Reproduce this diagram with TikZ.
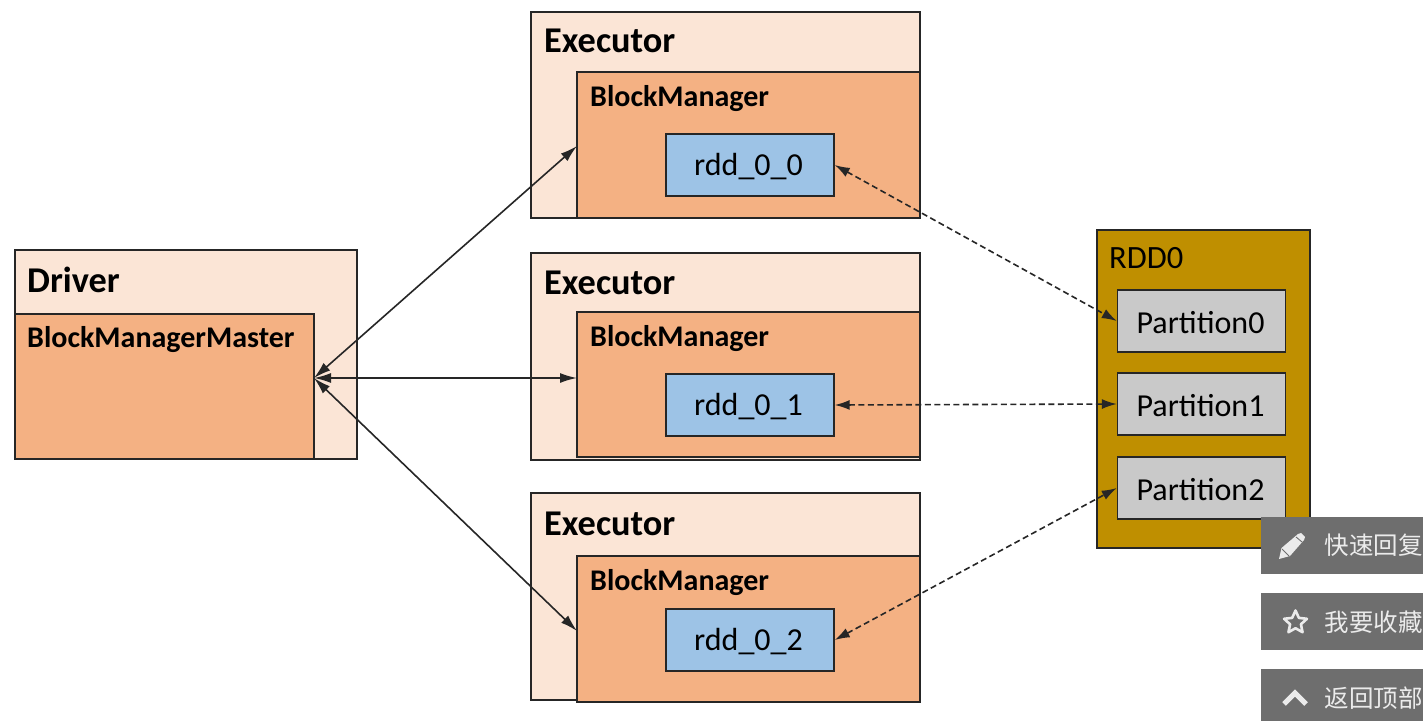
\documentclass[tikz,border=0pt]{standalone}
\usepackage{fontspec}
\setmainfont{Carlito}
\newfontfamily\cjk{Noto Sans CJK SC}
\usetikzlibrary{arrows.meta,shapes.geometric}
\definecolor{lightor}{HTML}{FBE5D6}
\definecolor{midor}{HTML}{F4B183}
\definecolor{rddblue}{HTML}{9DC3E6}
\definecolor{gold}{HTML}{BF8F00}
\definecolor{partgray}{HTML}{C9C9C9}
\definecolor{btn}{HTML}{6E6E6E}
\definecolor{edge}{HTML}{262626}
\tikzset{
  x=1pt,y=-1pt,
  outerbox/.style={draw=edge,line width=1.4pt,fill=lightor},
  innerbox/.style={draw=edge,line width=1.4pt,fill=midor},
  rddbox/.style={draw=edge,line width=1.4pt,fill=rddblue,inner sep=0pt,minimum width=168pt,minimum height=62pt},
  partbox/.style={draw=edge,line width=1.4pt,fill=partgray,inner sep=0pt,minimum width=168pt,minimum height=62pt},
  boxlabel/.style={font=\fontsize{32}{32}\selectfont,inner sep=0pt},
  ttl/.style={font=\fontsize{36.3}{36}\selectfont\bfseries,anchor=west,inner sep=0pt},
  sub/.style={font=\fontsize{30}{30}\selectfont\bfseries,anchor=west,inner sep=0pt},
  solidarrow/.style={line width=1.6pt,draw=edge,{Latex[length=17pt,width=10pt]}-{Latex[length=17pt,width=10pt]}},
  dasharrow/.style={line width=1.6pt,draw=edge,dash pattern=on 6pt off 3.5pt,{Latex[length=15pt,width=10pt]}-{Latex[length=15pt,width=10pt]}},
  btnbox/.style={fill=btn,minimum width=162pt,minimum height=57pt,inner sep=0pt,anchor=north west},
  btntext/.style={text=white!92!black,font=\cjk\fontsize{24.5}{24.5}\selectfont,anchor=west,inner sep=0pt},
  btnicon/.style={draw=white!92!black,line width=2.6pt,line join=round}
}
\begin{document}
\begin{tikzpicture}
\useasboundingbox (0,0) rectangle (1423,720);
\fill[white] (0,0) rectangle (1423,720);
% driver
\draw[outerbox] (15,250) rectangle (357,459);
\draw[innerbox] (15,314) rectangle (314,459);
\coordinate (master) at (314,378);
\node[ttl] (drv) at (27,280) {Driver};
\node[sub] (bmm) at (27,340) {BlockManagerMaster};
% executors
\draw[outerbox] (531,12) rectangle (920,218);
\draw[innerbox] (577,72) rectangle (920,218);
\node[ttl] (e0) at (544,41) {Executor};
\node[sub] (b0) at (590,99) {BlockManager};
\node[rddbox] (r0) at (750,165) {};
\node[boxlabel] (l0) at (748.5,167) {rdd\_0\_0};
\coordinate (a0) at (577,146);
\draw[outerbox] (531,253) rectangle (920,460);
\draw[innerbox] (577,312) rectangle (920,457);
\node[ttl] (e1) at (544,283) {Executor};
\node[sub] (b1) at (590,339) {BlockManager};
\node[rddbox] (r1) at (750,405) {};
\node[boxlabel] (l1) at (748.5,407) {rdd\_0\_1};
\coordinate (a1) at (577,378);
\draw[outerbox] (531,493) rectangle (920,700);
\draw[innerbox] (577,556) rectangle (920,702);
\node[ttl] (e2) at (544,524) {Executor};
\node[sub] (b2) at (590,583) {BlockManager};
\node[rddbox] (r2) at (750,640) {};
\node[boxlabel] (l2) at (748.5,642) {rdd\_0\_2};
\coordinate (a2) at (577,631);
% RDD
\draw[line width=1.4pt,draw=edge,fill=gold] (1097,230) rectangle (1310,548);
\node[font=\fontsize{32.5}{32}\selectfont,anchor=west,inner sep=0pt] (rdd) at (1109,258) {RDD0};
\node[partbox] (p0) at (1201.5,321) {};
\node[partbox] (p1) at (1201.5,404) {};
\node[partbox] (p2) at (1201.5,488) {};
\node[boxlabel] (q0) at (1200.5,323) {Partition0};
\node[boxlabel] (q1) at (1200.5,406) {Partition1};
\node[boxlabel] (q2) at (1200.5,490) {Partition2};
% arrows
\draw[solidarrow] (master) -- (a0);
\draw[solidarrow] (master) -- (a1);
\draw[solidarrow] (master) -- (a2);
\draw[dasharrow] (r0.east) -- (p0.west);
\draw[dasharrow] (r1.east) -- (p1.west);
\draw[dasharrow] (r2.east) -- (p2.west);
% buttons
\node[btnbox] (k1) at (1261,517) {};
\node[btnbox] (k2) at (1261,593) {};
\node[btnbox] (k3) at (1261,669) {};
% pencil icon
\fill[white!92!black] (1279,559) -- (1281.5,548) -- (1298,534) -- (1301,533) -- (1305,537) -- (1304,540) -- (1290,556) -- cycle;
\draw[btn,line width=0.9pt] (1282,549) -- (1289,556);
\draw[btn,line width=0.9pt] (1296,537) -- (1302,542);
% star icon
\node[btnicon,star,star points=5,star point ratio=2.1,minimum size=24pt,inner sep=0pt] (i2) at (1295.5,622.5) {};
% chevron icon
\coordinate (c1) at (1284,704);
\coordinate (c2) at (1295,693);
\coordinate (c3) at (1306,704);
\draw[white!92!black,line width=5pt,line join=miter] (c1) -- (c2) -- (c3);
\node[btntext] (t1) at (1324.5,545) {快速回复};
\node[btntext] (t2) at (1324.5,622) {我要收藏};
\node[btntext] (t3) at (1324.5,698) {返回顶部};
\end{tikzpicture}
\end{document}
